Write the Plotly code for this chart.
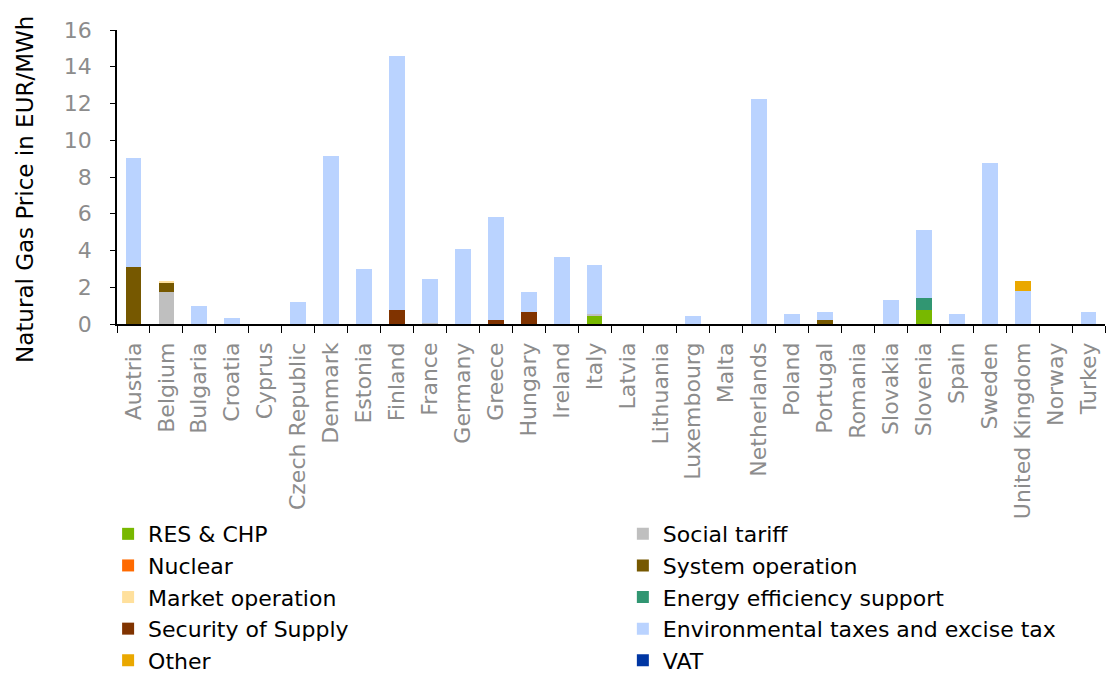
import plotly.graph_objects as go

countries = ["Austria", "Belgium", "Bulgaria", "Croatia", "Cyprus", "Czech Republic",
             "Denmark", "Estonia", "Finland", "France", "Germany", "Greece", "Hungary",
             "Ireland", "Italy", "Latvia", "Lithuania", "Luxembourg", "Malta",
             "Netherlands", "Poland", "Portugal", "Romania", "Slovakia", "Slovenia",
             "Spain", "Sweden", "United Kingdom", "Norway", "Turkey"]

#                Au    Be    Bg    Hr    Cy    Cz    Dk    Ee    Fi     Fr    De    Gr    Hu    Ie    It    Lv  Lt  Lu    Mt  Nl     Pl    Pt    Ro  Sk   Si    Es    Se    UK   No  Tr
res_chp       = [0,    0,    0,    0,    0,    0,    0,    0,    0,     0,    0,    0,    0,    0,    0.44, 0,  0,  0,    0,  0,     0,    0,    0,  0,   0.76, 0,    0,    0,   0,  0]
social_tariff = [0,    1.75, 0,    0,    0,    0,    0,    0,    0,     0.08, 0,    0,    0,    0,    0.12, 0,  0,  0,    0,  0,     0,    0,    0,  0,   0,    0,    0,    0,   0,  0]
nuclear       = [0] * 30
system_op     = [3.1,  0.5,  0,    0,    0,    0,    0,    0,    0,     0,    0,    0,    0,    0,    0,    0,  0,  0,    0,  0,     0,    0.22, 0,  0,   0,    0,    0,    0,   0,  0]
market_op     = [0,    0.08, 0,    0,    0,    0,    0,    0,    0,     0,    0,    0,    0,    0,    0,    0,  0,  0,    0,  0,     0,    0,    0,  0,   0,    0,    0,    0,   0,  0]
energy_eff    = [0,    0,    0,    0,    0,    0,    0,    0,    0,     0,    0,    0,    0,    0,    0,    0,  0,  0,    0,  0,     0,    0,    0,  0,   0.65, 0,    0,    0,   0,  0]
security      = [0,    0,    0,    0,    0,    0,    0,    0,    0.76,  0,    0,    0.22, 0.67, 0,    0,    0,  0,  0,    0,  0,     0,    0,    0,  0,   0,    0,    0,    0,   0,  0]
env_excise    = [5.93, 0,    0.98, 0.34, 0,    1.2,  9.15, 3.0,  13.82, 2.37, 4.06, 5.6,  1.05, 3.63, 2.65, 0,  0,  0.44, 0,  12.25, 0.54, 0.45, 0,  1.3, 3.71, 0.54, 8.75, 1.8, 0,  0.65]
other         = [0,    0,    0,    0,    0,    0,    0,    0,    0,     0,    0,    0,    0,    0,    0,    0,  0,  0,    0,  0,     0,    0,    0,  0,   0,    0,    0,    0.54, 0, 0]
vat           = [0] * 30

y_title = "Natural Gas Price in EUR/MWh"

# (name, values, colour, legend column)
series = [
    ("RES & CHP", res_chp, "#78B800", "legend"),
    ("Social tariff", social_tariff, "#BFBFBF", "legend2"),
    ("Nuclear", nuclear, "#FF6A00", "legend"),
    ("System operation", system_op, "#765800", "legend2"),
    ("Market operation", market_op, "#FFE09C", "legend"),
    ("Energy efficiency support", energy_eff, "#319672", "legend2"),
    ("Security of Supply", security, "#803300", "legend"),
    ("Environmental taxes and excise tax", env_excise, "#BAD3FF", "legend2"),
    ("Other", other, "#EAA800", "legend"),
    ("VAT", vat, "#0036A3", "legend2"),
]

FONT = "DejaVu Sans"

fig = go.Figure()
for name, vals, col, leg in series:
    fig.add_trace(go.Bar(name=name, x=countries, y=vals, legend=leg,
                         marker=dict(color=col, line=dict(width=0))))

legend_common = dict(
    orientation="v",
    yanchor="top",
    xanchor="left",
    font=dict(family=FONT, size=22, color="black"),
    traceorder="normal",
    itemclick=False,
    bgcolor="rgba(0,0,0,0)",
)

fig.update_layout(
    barmode="stack",
    bargap=0.52,
    width=1109, height=666,
    margin=dict(l=109, r=12, t=22, b=350, autoexpand=False),
    plot_bgcolor="white", paper_bgcolor="white",
    font=dict(family=FONT, size=20, color="black"),
    legend=dict(x=-0.009, y=-0.643, **legend_common),
    legend2=dict(x=0.512, y=-0.643, **legend_common),
    showlegend=True,
    annotations=[dict(
        text=y_title, textangle=-90,
        xref="paper", yref="paper", x=-0.0931, y=0.456,
        xanchor="center", yanchor="middle", showarrow=False,
        font=dict(family=FONT, size=23, color="black"),
    )],
)

fig.update_yaxes(
    range=[0, 16], dtick=2, automargin=False,
    showgrid=False, zeroline=False,
    showline=True, linecolor="black", linewidth=1.5,
    ticks="outside", ticklen=5, tickcolor="black",
    ticklabelstandoff=14,
    tickfont=dict(family=FONT, size=22, color="#8C8C8C"),
)
fig.update_xaxes(
    showgrid=False, automargin=False,
    showline=True, linecolor="black", linewidth=1.5,
    ticks="outside", ticklen=7, tickcolor="black", tickson="boundaries",
    tickangle=-90, ticklabelstandoff=8,
    tickfont=dict(family=FONT, size=22, color="#8C8C8C"),
)

fig.write_html("out.html")
